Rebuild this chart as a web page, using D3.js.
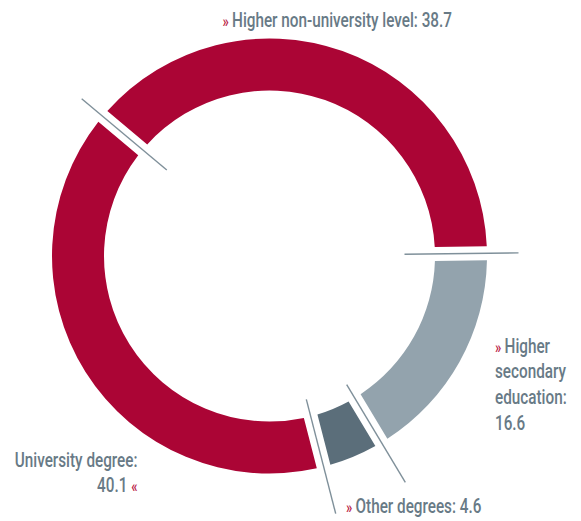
<!DOCTYPE html>
<html>
<head>
<meta charset="utf-8">
<script src="https://cdn.jsdelivr.net/npm/d3@7"></script>
<style>
  html, body { margin: 0; padding: 0; background: #ffffff; }
  svg { display: block; }
  text { font-family: "Roboto", "Liberation Sans Narrow", sans-serif; font-weight: 500; }
</style>
</head>
<body>
<svg id="chart" width="581" height="521"></svg>
<script>
// Shares of graduates by education level (%)
const categories = ["Higher non-university level", "Higher secondary education", "Other degrees", "University degree"];
const values = [38.7, 16.6, 4.6, 40.1];
const colors = ["#ab0535", "#93a3ad", "#5b6e7a", "#ab0535"];

const svg = d3.select("#chart");
const cx = 269.5, cy = 256;
const outerR = 217.5, innerR = 165.5;
const gapPx = 14;

const startDeg = -50.05;
const start = startDeg * Math.PI / 180;

// Boundaries follow the exact shares; the gaps are cut out by the arc padding
const pie = d3.pie()
  .sort(null)
  .value(d => d)
  .startAngle(start)
  .endAngle(start + 2 * Math.PI);

const arc = d3.arc()
  .innerRadius(innerR)
  .outerRadius(outerR)
  .padAngle(gapPx / outerR)
  .padRadius(outerR);

const arcs = pie(values);

const g = svg.append("g").attr("transform", `translate(${cx},${cy})`);

g.selectAll("path.slice")
  .data(arcs)
  .join("path")
  .attr("class", "slice")
  .attr("d", arc)
  .attr("fill", (d, i) => colors[i]);

// Separator ticks drawn across each gap, following the boundary angle
const tickExtent = [[134, 245], [135, 249], [150, 264], [148, 266]];
const boundary = arcs.map(d => d.startAngle);
g.selectAll("line.sep")
  .data(boundary)
  .join("line")
  .attr("class", "sep")
  .attr("x1", (a, i) => Math.sin(a) * tickExtent[i][0])
  .attr("y1", (a, i) => -Math.cos(a) * tickExtent[i][0])
  .attr("x2", (a, i) => Math.sin(a) * tickExtent[i][1])
  .attr("y2", (a, i) => -Math.cos(a) * tickExtent[i][1])
  .attr("stroke", "#7f909a")
  .attr("stroke-width", 1.4);

// Labels
const textGrey = "#687a86";
const markRed = "#b8163f";
const fontSize = 20.5;

const fmt = v => v.toFixed(1);

const labelDefs = [
  { x: 222.5, y: 26.5, anchor: "start", lines: [[["» ", true], [categories[0] + ": " + fmt(values[0]), false]]] },
  { x: 495, y: 352.5, anchor: "start", lines: [
      [["» ", true], ["Higher", false]],
      [["secondary", false]],
      [["education:", false]],
      [[fmt(values[1]), false]]
    ] },
  { x: 346, y: 513, anchor: "start", lines: [[["» ", true], [categories[2] + ": " + fmt(values[2]), false]]] },
  { x: 137.5, y: 466.5, anchor: "end", lines: [
      [[categories[3] + ":", false]],
      [[fmt(values[3]) + " ", false], ["«", true]]
    ] }
];
const lineGap = 26;

const labelGroups = svg.selectAll("g.label")
  .data(labelDefs)
  .join("g")
  .attr("class", "label");

labelGroups.each(function (def) {
  const lg = d3.select(this);
  def.lines.forEach((parts, li) => {
    const t = lg.append("text")
      .attr("x", 0)
      .attr("y", li * lineGap)
      .attr("text-anchor", def.anchor)
      .attr("font-size", fontSize)
      .attr("fill", textGrey);
    parts.forEach(([s, mark]) => {
      t.append("tspan")
        .attr("fill", mark ? markRed : textGrey)
        .attr("font-size", mark ? fontSize * 0.85 : fontSize)
        .text(s);
    });
  });
});

// Condense the type horizontally so the title line spans its column width
const topText = labelGroups.filter((d, i) => i === 0).select("text").node();
const natural = topText.getComputedTextLength();
const k = 229.5 / natural;
labelGroups.attr("transform", d => `translate(${d.x},${d.y}) scale(${k},1)`);
</script>
</body>
</html>
